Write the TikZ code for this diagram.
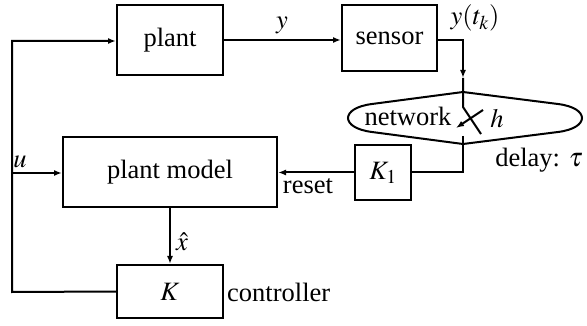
\documentclass[tikz,border=0pt]{standalone}
\usepackage{mathptmx}
\usepackage{fontspec}
\setmainfont{Liberation Serif}
\usetikzlibrary{arrows.meta}
\begin{document}
\begin{tikzpicture}[x=1pt,y=-1pt,
  every node/.style={font=\fontsize{26.5}{31}\selectfont, inner sep=0pt},
  blk/.style={draw, line width=2pt},
  wire/.style={line width=2pt},
  arr/.style={wire, -{Latex[length=8pt,width=6pt]}}]
\useasboundingbox (0,0) rectangle (587,326);
% blocks
\node[blk, minimum width=106pt, minimum height=70pt] (plant) at (170,40) {plant};
\node[blk, minimum width=95pt, minimum height=66pt] (sensor) at (389.5,38) {sensor};
\node[blk, minimum width=214pt, minimum height=70pt] (model) at (170,172) {plant model};
\node[blk, minimum width=106pt, minimum height=53pt] (ctrl) at (170,291.5) {$K$};
\node[blk, minimum width=56pt, minimum height=55pt] (kone) at (383,172.5) {$K_1$};
% network
\draw[wire] (463,92) -- (372,104) .. controls (340,108) and (340,128) .. (372,132)
  -- (463,144) -- (558,132) .. controls (590,128) and (590,108) .. (558,104) -- cycle;
\node (netlbl) at (408,116) {network};
\node (hlbl) at (497,119) {$h$};
\node (delay) at (539,160) {delay:\,\,$\tau$};
% coordinates
\coordinate (sw1) at (463,78);
\coordinate (swtop) at (463,107);
\coordinate (swbot) at (463,136);
\coordinate (swend) at (481,134);
\coordinate (swa) at (483,110);
\coordinate (swb) at (456,128);
\coordinate (uleft) at (12,41);
\coordinate (ubot) at (12,292);
\coordinate (ujoin) at (12,173);
% connectors
\draw[arr] (plant.east) -- (sensor.west |- plant.east);
\draw[arr] (sensor.east |- plant.east) -| (sw1);
\draw[wire] (sw1) -- (swtop) -- (swend);
\draw[wire, -{Latex[length=8pt,width=6pt]}] (swa) -- (swb);
\draw[wire] (swbot) |- (kone.east);
\draw[arr] (kone.west) -- (model.east |- kone.west);
\draw[arr] (model.south) -- (ctrl.north);
\draw[arr] (ctrl.west) -- (ubot) -- (uleft) -- (plant.west |- uleft);
\draw[arr] (ujoin) -- (model.west |- ujoin);
% labels
\node (ylbl) at (282,25) {$y$};
\node (ytk) at (475,18) {$y(t_k)$};
\node (ulbl) at (20,162) {$u$};
\node (xhat) at (182,242) {$\hat{x}$};
\node (reset) at (308,186) {reset};
\node[anchor=west] (ctrllbl) at (227,292) {controller};
\end{tikzpicture}
\end{document}
